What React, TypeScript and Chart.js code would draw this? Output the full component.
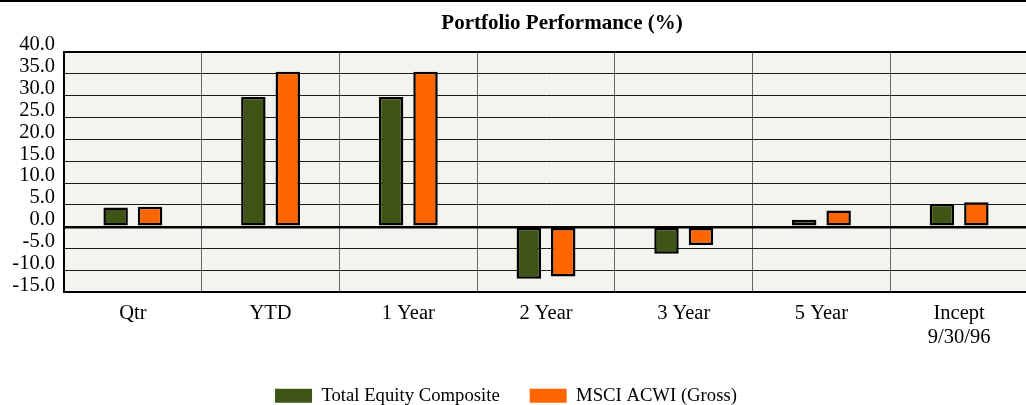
import React, { useEffect, useRef } from 'react';
import { Chart, registerables } from 'chart.js';

Chart.register(...registerables);

const titleText = 'Portfolio Performance (%)';
const categories: (string | string[])[] = ['Qtr', 'YTD', '1 Year', '2 Year', '3 Year', '5 Year', ['Incept', '9/30/96']];
const seriesNames = ['Total Equity Composite', 'MSCI ACWI (Gross)'];
const compositeValues = [4.4, 29.7, 29.7, -11.9, -6.2, 1.6, 5.2];
const benchmarkValues = [4.6, 35.5, 35.5, -11.4, -4.2, 3.7, 5.6];
const yMin = -15;
const yMax = 40;
const yStep = 5;

const GREEN = '#3E5516';
const ORANGE = '#FF6600';
const SERIF = '"Liberation Serif", "Times New Roman", serif';

const areaPlugin = {
  id: 'areaPlugin',
  beforeDraw(chart: any) {
    const { ctx, chartArea } = chart;
    ctx.save();
    ctx.fillStyle = '#F4F4EF';
    ctx.fillRect(chartArea.left, chartArea.top, chartArea.right - chartArea.left, chartArea.bottom - chartArea.top);
    ctx.restore();
  },
  afterDraw(chart: any) {
    const { ctx, chartArea } = chart;
    ctx.save();
    ctx.strokeStyle = '#000';
    ctx.lineWidth = 2;
    ctx.beginPath();
    ctx.moveTo(chartArea.left - 1, chartArea.top);
    ctx.lineTo(chartArea.right, chartArea.top);
    ctx.lineTo(chartArea.right, chartArea.bottom);
    ctx.stroke();
    ctx.restore();
  },
};

function PerformanceChart() {
  const ref = useRef<HTMLCanvasElement | null>(null);
  useEffect(() => {
    if (!ref.current) return;
    const chart = new Chart(ref.current, {
      type: 'bar',
      data: {
        labels: categories,
        datasets: [
          {
            label: seriesNames[0],
            data: compositeValues,
            backgroundColor: GREEN,
            borderColor: '#000',
            borderWidth: 2.5,
            borderSkipped: false,
            categoryPercentage: 0.5,
            barPercentage: 0.71,
          },
          {
            label: seriesNames[1],
            data: benchmarkValues,
            backgroundColor: ORANGE,
            borderColor: '#000',
            borderWidth: 2.5,
            borderSkipped: false,
            categoryPercentage: 0.5,
            barPercentage: 0.71,
          },
        ],
      },
      options: {
        animation: false,
        responsive: false,
        layout: { padding: { top: 52, left: 0, right: 2, bottom: 0 } },
        plugins: {
          title: { display: false },
          tooltip: { enabled: false },
          legend: {
            position: 'bottom',
            labels: {
              boxWidth: 37,
              boxHeight: 14,
              padding: 30,
              color: '#000',
              font: { family: SERIF, size: 18.7 },
              generateLabels: (chart: any) =>
                chart.data.datasets.map((ds: any, i: number) => ({
                  text: ds.label,
                  fillStyle: ds.backgroundColor,
                  strokeStyle: ds.backgroundColor,
                  lineWidth: 0,
                  hidden: false,
                  datasetIndex: i,
                })),
            },
          },
        },
        scales: {
          x: {
            offset: true,
            grid: { display: true, offset: true, color: '#666', lineWidth: 1, drawTicks: false },
            border: { display: true, color: '#000', width: 2 },
            ticks: {
              color: '#000',
              padding: 10,
              maxRotation: 0,
              autoSkip: false,
              font: { family: SERIF, size: 20.5, lineHeight: 1.15 },
            },
            afterFit: (scale: any) => {
              scale.height = 64;
            },
          },
          y: {
            min: yMin,
            max: yMax,
            grid: {
              drawTicks: false,
              color: (c: any) => (c.tick && c.tick.value === 0 ? '#000' : '#1a1a1a'),
              lineWidth: (c: any) => (c.tick && c.tick.value === 0 ? 2.5 : 1),
            },
            border: { display: true, color: '#000', width: 2 },
            ticks: {
              stepSize: yStep,
              autoSkip: false,
              color: '#000',
              padding: 9,
              labelOffset: -7,
              font: { family: SERIF, size: 20.5 },
              callback: (v: any) => Number(v).toFixed(1),
            },
            afterFit: (scale: any) => {
              scale.width = 80;
            },
          },
        },
      },
      plugins: [areaPlugin],
    } as any);
    return () => chart.destroy();
  }, []);
  return (
    <canvas
      ref={ref}
      width={1046}
      height={415}
      style={{ display: 'block', position: 'absolute', left: -16, top: 0 }}
    />
  );
}

export default function App() {
  return (
    <div
      style={{
        position: 'fixed',
        left: 0,
        top: 0,
        width: 1026,
        height: 405,
        overflow: 'hidden',
        background: '#fff',
      }}
    >
      <div style={{ position: 'absolute', left: 0, top: 0, width: 1026, height: 2, background: '#000' }} />
      <PerformanceChart />
      <div
        style={{
          position: 'absolute',
          left: 562,
          top: 12,
          transform: 'translateX(-50%)',
          whiteSpace: 'nowrap',
          fontFamily: SERIF,
          fontWeight: 'bold',
          fontSize: 21,
          lineHeight: '21px',
          color: '#000',
        }}
      >
        {titleText}
      </div>
    </div>
  );
}
